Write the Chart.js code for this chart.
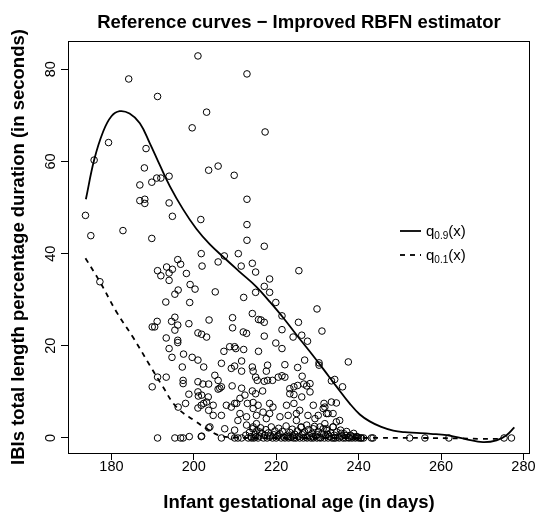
<!DOCTYPE html>
<html><head><meta charset="utf-8">
<script src="https://cdn.jsdelivr.net/npm/chart.js@4.4.0/dist/chart.umd.min.js"></script>
<style>html,body{margin:0;padding:0;background:#fff}#wrap{width:539px;height:512px}</style>
</head><body><div id="wrap"><canvas id="c" width="539" height="512"></canvas></div>
<script>
const chartTitle = 'Reference curves \u2212 Improved RBFN estimator';
const xTitle = 'Infant gestational age (in days)';
const yTitle = 'IBIs total length percentage duration (in seconds)';
const xTicks = [180, 200, 220, 240, 260, 280];
const yTicks = [0, 20, 40, 60, 80];
const legendSubs = ['0.9', '0.1'];

// observations [age in days, IBI value]
const observations = [
[201.0,82.9],[184.2,77.9],[191.2,74.1],[203.1,70.7],[199.6,67.3],[179.3,64.1],[175.8,60.3],[188.4,62.8],[188.0,58.6],[203.6,58.1],
[186.9,54.9],[189.8,55.5],[191.0,56.4],[192.0,56.4],[194.0,56.8],[186.9,51.5],[188.1,51.8],[188.1,50.9],[194.0,51.0],[194.8,48.1],
[201.7,47.4],[173.7,48.3],[175.0,43.9],[182.8,45.0],[189.8,43.3],[212.9,79.0],[217.3,66.4],[205.9,59.0],[209.8,57.0],[212.9,51.8],
[212.9,46.3],[212.9,42.9],[217.1,41.6],
[177.2,33.9],[201.8,40.0],[202.0,37.3],[191.2,36.3],[192.0,35.2],[193.4,37.1],[194.0,35.8],[194.8,36.6],[196.1,38.7],[196.8,37.7],
[194.0,34.2],[198.2,35.7],[199.1,33.3],[200.3,32.3],[196.2,32.1],[195.4,31.2],[193.2,29.5],[199.0,29.4],[191.1,25.3],[189.9,24.1],
[190.5,24.1],[194.6,25.3],[195.4,26.2],[196.1,24.5],[195.4,23.4],[198.8,24.8],[201.0,22.8],[201.9,22.5],[203.1,21.9],[203.7,25.6],
[193.3,21.7],[196.1,21.2],[196.1,20.7],[194.0,19.4],[197.5,18.2],[194.7,17.5],[199.6,17.5],[201.0,16.9],[197.2,15.4],[202.4,15.4],
[191.2,13.2],[193.3,13.2],[189.9,11.1],[197.4,12.5],[197.4,11.8],[201.0,12.2],[202.2,11.7],[203.6,11.7],[201.0,10.0],[201.9,9.3],
[201.1,9.1],[198.8,9.5],[203.5,8.9],[203.1,7.8],[202.4,7.5],[201.8,7.1],[198.0,7.5],[196.2,6.7],[201.0,6.5],[203.6,6.0],
[203.6,2.2],[191.2,0],[195.4,0],[196.8,0],[197.4,0],[198.9,0.3],[201.8,0.3],
[207.4,39.5],[210.8,40.0],[205.9,38.2],[211.5,37.3],[214.2,37.9],[215.0,36.0],[225.5,36.3],[218.4,34.5],[217.1,32.9],[218.4,31.6],
[215.0,31.6],[205.2,31.7],[212.1,30.5],[219.9,29.4],[229.9,28.0],[214.2,27.0],[221.4,26.5],[215.7,25.7],[216.3,25.6],[217.1,25.1],
[209.4,26.1],[209.4,23.9],[225.4,25.1],[231.1,23.2],[212.0,23.0],[212.8,22.7],[221.4,23.5],[217.1,22.1],[226.2,22.3],[227.6,21.0],
[224.1,21.9],[219.9,20.6],[221.4,19.4],[208.7,19.8],[209.9,19.8],[210.2,19.4],[212.1,19.2],[207.3,18.8],[215.7,18.8],[226.9,16.9],
[230.4,16.3],[237.5,16.5],[206.7,16.2],[211.6,16.7],[209.1,15.1],[209.9,15.6],[211.6,14.5],[214.2,15.4],[214.4,14.5],[217.9,15.8],
[217.6,14.5],[222.1,15.9],[225.2,15.3],[230.4,15.8],[205.1,13.6],[205.9,12.5],[206.3,10.8],[215.0,13.2],[215.4,12.5],[217.1,12.3],
[217.9,12.5],[219.1,12.5],[220.5,13.2],[221.4,13.5],[222.1,13.2],[226.3,13.4],[228.2,11.8],[233.4,12.4],[234.2,12.7],[236.1,11.1],
[209.3,11.3],[211.6,10.8],[223.3,10.7],[224.3,11.1],[225.2,11.4],[226.7,11.7],[227.4,11.3],[205.9,10.6],[206.7,11.1],[214.2,10.2],
[215.0,9.6],[216.7,10.2],[223.3,9.6],[224.3,9.4],[226.2,8.9],[228.2,10.0],[211.2,8.6],[212.4,9.3],[210.4,7.5],[204.7,7.1],
[207.9,7.1],[209.1,6.7],[209.9,7.5],[213.0,7.5],[214.4,7.7],[215.6,7.1],[214.4,6.4],[218.4,7.5],[219.2,6.7],[222.5,7.1],
[224.3,7.5],[229.0,7.1],[231.6,7.5],[233.4,7.8],[234.6,7.6],[225.7,6.0],[231.4,6.4],[204.7,4.9],[206.7,4.9],[211.2,5.3],
[212.8,4.6],[210.7,3.8],[215.2,4.9],[216.8,5.6],[217.6,4.2],[218.4,5.3],[220.9,4.6],[222.9,4.9],[224.9,5.3],[224.9,3.8],
[227.7,4.9],[230.2,4.9],[232.2,5.3],[233.8,5.3],[235.4,3.8],[207.5,2.0],[209.9,1.7],[203.9,2.4],[212.8,2.8],[214.4,2.4],
[215.2,3.1],[206.7,0],[209.1,0.4],[209.9,0],[210.7,0],[211.6,0],[201.9,0.4],
[226.1,2.4],[227.4,2.8],[229.0,2.0],[230.6,2.4],[231.8,3.1],[232.2,2.0],[233.8,2.4],[234.6,3.5],[229.4,4.2],[232.6,5.3],[231.8,6.7],
[213.2,0],[213.5,1.2],[213.9,0.3],[214.3,2.0],[214.6,0],[214.9,0.8],[215.3,1.6],[215.6,0],[215.9,0.4],[216.2,2.2],
[216.5,1.0],[216.9,0],[217.2,0.5],[217.5,1.8],[217.8,0],[218.1,1.1],[218.4,0.2],[218.8,2.4],[219.1,0],[219.4,0.7],
[219.7,1.5],[220.0,0],[220.3,0.3],[220.6,2.1],[220.9,0.9],[221.2,0],[221.5,1.4],[221.8,0.2],[222.1,0],[222.4,2.6],
[222.7,0.6],[223.0,0],[223.3,1.2],[223.6,0.1],[223.9,1.9],[224.2,0],[224.5,0.8],[224.8,0],[225.1,1.5],[225.4,0.3],
[225.7,0],[226.0,2.3],[226.3,0.7],[226.6,0],[226.9,1.3],[227.2,0.2],[227.5,0],[227.8,1.8],[228.1,0.5],[228.4,0],
[228.7,1.0],[229.0,0],[229.3,2.5],[229.6,0.4],[229.9,0],[230.2,1.4],[230.5,0.1],[230.8,0],[231.1,0.9],[231.4,2.0],
[231.7,0],[232.0,0.5],[232.3,1.6],[232.6,0],[232.9,0.3],[233.2,1.1],[233.5,0],[233.8,2.4],[234.1,0.6],[234.4,0],
[234.7,1.3],[235.0,0.2],[235.3,0],[235.6,1.7],[235.9,0.4],[236.2,0],[236.5,0.9],[236.8,0],[237.1,1.4],[237.4,0.1],
[237.7,0],[238.0,0.6],[238.4,0],[238.8,1.0],[239.2,0],[239.6,0.3],[240.0,0],[240.5,0],[241.2,0],
[212.6,0.6],[214.0,0],[215.0,0.2],[216.0,1.3],[218.6,0.5],[220.5,0.6],[222.9,0.3],[224.0,0.4],[226.5,1.1],[228.9,0.3],
[230.0,0.7],[232.5,0.8],[234.0,0],[235.8,1.0],[236.9,0.5],[238.6,0.3],[239.5,0.2],[240.7,0],[243.1,0],[243.5,0],
[252.4,0],[256.1,0],[261.9,0],[275.3,0],[277.1,0]
];

// upper reference curve q0.9(x)
const q90X = [173.8,175.8,178.0,180.0,182.0,184.4,186.9,189.3,191.7,194.2,197.4,200.6,203.9,207.5,211.2,215.2,218.4,221.7,224.9,228.2,231.4,234.6,237.9,240.3,242.7,245.5,248.4,251.2,254.1,257.5,261.4,266.2,270.2,273.5,275.9,277.8];
const q90Y = [51.8,60.3,66.5,69.8,70.9,70.4,68.3,64.0,59.3,54.6,49.6,45.4,42.0,39.0,36.0,32.8,29.6,26.1,22.4,18.7,15.0,11.2,7.4,5.1,3.6,2.4,1.6,1.25,1.1,0.9,0.6,-0.3,-0.9,-0.5,0.6,2.3];
// lower reference curve q0.1(x)
const q10X = [173.7,177.2,181.2,185.2,189.3,192.5,195.8,200.6,203.1,206.3,210.0,215.0,225.0,240.0,255.0,265.0,270.0,275.0];
const q10Y = [39.0,33.9,27.4,21.9,15.8,11.1,6.7,3.5,2.0,0.5,0.1,0,0,0,0,-0.1,-0.2,-0.2];

const FONT = '"Liberation Sans", Arial, Helvetica, sans-serif';

const decor = {
  id: 'decor',
  afterDraw(chart) {
    const {ctx, chartArea: a, scales: {x, y}} = chart;
    ctx.save();
    ctx.strokeStyle = '#000';
    ctx.lineWidth = 1;
    ctx.strokeRect(a.left + 0.5, a.top + 0.5, a.right - a.left - 1, a.bottom - a.top);
    ctx.fillStyle = '#000';
    ctx.font = '14.5px ' + FONT;
    ctx.textAlign = 'center';
    ctx.textBaseline = 'alphabetic';
    xTicks.forEach(v => ctx.fillText(String(v), x.getPixelForValue(v), 471));
    yTicks.forEach(v => {
      ctx.save();
      ctx.translate(55, y.getPixelForValue(v));
      ctx.rotate(-Math.PI / 2);
      ctx.fillText(String(v), 0, 0);
      ctx.restore();
    });
    ctx.font = 'bold 18.5px ' + FONT;
    const cx = (a.left + a.right) / 2;
    ctx.fillText(chartTitle, cx, 27.5);
    ctx.fillText(xTitle, cx, 508);
    ctx.save();
    ctx.translate(23.5, (a.top + a.bottom) / 2);
    ctx.rotate(-Math.PI / 2);
    ctx.fillText(yTitle, 0, 0);
    ctx.restore();
    const rows = [{y: 231, dash: []}, {y: 255, dash: [5, 5]}];
    rows.forEach((r, i) => {
      ctx.save();
      ctx.lineWidth = 1.8;
      ctx.setLineDash(r.dash);
      ctx.beginPath();
      ctx.moveTo(400, r.y);
      ctx.lineTo(421, r.y);
      ctx.stroke();
      ctx.restore();
      ctx.textAlign = 'left';
      let tx = 426;
      const base = r.y + 5;
      ctx.font = '15px ' + FONT;
      ctx.fillText('q', tx, base);
      tx += ctx.measureText('q').width;
      ctx.font = '10px ' + FONT;
      ctx.fillText(legendSubs[i], tx, base + 3);
      tx += ctx.measureText(legendSubs[i]).width;
      ctx.font = '15px ' + FONT;
      ctx.fillText('(x)', tx, base);
    });
    ctx.restore();
  }
};

const gridOpts = {drawOnChartArea: false, drawTicks: true, tickLength: 7, color: '#000', lineWidth: 1};

new Chart(document.getElementById('c'), {
  type: 'scatter',
  data: {
    datasets: [
      {
        label: 'observations',
        data: observations.map(p => ({x: p[0], y: p[1]})),
        showLine: false,
        pointStyle: 'circle',
        pointRadius: 3.3,
        pointBorderWidth: 1,
        pointBorderColor: '#000',
        pointBackgroundColor: 'rgba(0,0,0,0)'
      },
      {
        label: 'q0.9(x)',
        data: q90X.map((v, i) => ({x: v, y: q90Y[i]})),
        showLine: true,
        pointRadius: 0,
        borderColor: '#000',
        borderWidth: 1.8,
        tension: 0.4
      },
      {
        label: 'q0.1(x)',
        data: q10X.map((v, i) => ({x: v, y: q10Y[i]})),
        showLine: true,
        pointRadius: 0,
        borderColor: '#000',
        borderWidth: 1.8,
        borderDash: [5, 5],
        tension: 0.4
      }
    ]
  },
  options: {
    responsive: false,
    animation: false,
    events: [],
    layout: {padding: {top: 41, right: 9, left: 0, bottom: 0}},
    plugins: {legend: {display: false}, tooltip: {enabled: false}, title: {display: false}},
    scales: {
      x: {
        type: 'linear', min: 169.46, max: 281.6,
        afterBuildTicks: s => { s.ticks = xTicks.map(v => ({value: v})); },
        afterFit: s => { s.height = 59; },
        grid: gridOpts,
        border: {display: false},
        ticks: {display: false}
      },
      y: {
        type: 'linear', min: -3.26, max: 86.14,
        afterBuildTicks: s => { s.ticks = yTicks.map(v => ({value: v})); },
        afterFit: s => { s.width = 68; },
        grid: gridOpts,
        border: {display: false},
        ticks: {display: false}
      }
    }
  },
  plugins: [decor]
});
</script>
</body></html>
